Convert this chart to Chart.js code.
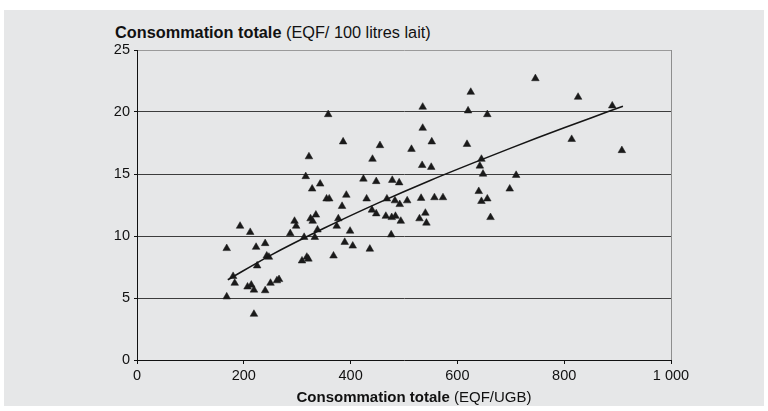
<!DOCTYPE html>
<html>
<head>
<meta charset="utf-8">
<script src="https://cdn.jsdelivr.net/npm/chart.js@4.4.1/dist/chart.umd.min.js"></script>
<style>
  html, body { margin: 0; padding: 0; background: #ffffff; width: 768px; height: 411px; overflow: hidden; }
  #panel { position: absolute; left: 4px; top: 10px; width: 760px; height: 396px; background: #e6e7e8; }
  #wrap { position: absolute; left: 0; top: 0; width: 768px; height: 411px; }
  .ttl { position: absolute; font-family: 'Liberation Sans', Arial, sans-serif; color: #111; line-height: 1; white-space: nowrap; }
  #ytitle { left: 115px; top: 24px; font-size: 16.3px; }
  #xtitle { left: 414px; top: 389px; font-size: 15px; transform: translateX(-50%); }
</style>
</head>
<body>
<div id="panel"></div>
<div id="ytitle" class="ttl"><b>Consommation totale</b> (EQF/ 100 litres lait)</div>
<div id="wrap"><canvas id="c" width="768" height="411"></canvas></div>
<div id="xtitle" class="ttl"><b>Consommation totale</b> (EQF/UGB)</div>
<script>
// Consommation totale (EQF/UGB) per farm
const consoUGB = [
  193, 212, 295, 298, 325, 335, 329, 377, 374, 399,
  287, 313, 333, 338, 389, 404, 168, 223, 240, 243,
  247, 309, 318, 321, 368, 225, 180, 183, 207, 214,
  219, 240, 250, 262, 266, 168, 219, 355, 360, 384,
  358, 386, 322, 316, 343, 328, 392,
  430, 468, 483, 492, 506, 532, 557, 573, 440, 448,
  466, 477, 484, 494, 540, 529, 542, 645, 656, 662,
  476, 436,
  625, 535, 620, 656, 535, 552, 618, 455, 514, 441,
  645, 642, 534, 551, 648, 424, 448, 478, 491, 640,
  746, 826, 890, 814, 908, 710, 698
];
// Consommation totale (EQF / 100 litres lait) per farm
const consoLait = [
  10.8, 10.3, 11.2, 10.8, 11.4, 11.7, 11.2, 11.4, 10.8, 10.4,
  10.2, 9.9, 9.9, 10.5, 9.5, 9.2, 9.0, 9.1, 9.4, 8.4,
  8.3, 8.0, 8.3, 8.15, 8.4, 7.6, 6.75, 6.2, 5.9, 6.05,
  5.65, 5.6, 6.2, 6.4, 6.5, 5.1, 3.7, 13.0, 13.0, 12.4,
  19.8, 17.6, 16.4, 14.8, 14.2, 13.8, 13.3,
  13.0, 13.0, 12.85, 12.55, 12.85, 13.05, 13.1, 13.1, 12.1, 11.8,
  11.6, 11.5, 11.6, 11.2, 11.85, 11.4, 11.05, 12.8, 13.0, 11.5,
  10.1, 8.95,
  21.6, 20.4, 20.1, 19.8, 18.7, 17.6, 17.4, 17.3, 17.0, 16.2,
  16.2, 15.65, 15.7, 15.55, 15.0, 14.6, 14.4, 14.5, 14.3, 13.6,
  22.7, 21.2, 20.5, 17.8, 16.9, 14.9, 13.8
];
// Trend curve
const trendX = [170, 250, 350, 450, 550, 650, 750, 850, 910];
const trendY = [6.47, 8.44, 10.62, 12.63, 14.50, 16.24, 17.92, 19.52, 20.46];
// Tick labels
const xTickLabels = ['0', '200', '400', '600', '800', '1 000'];
const yTickLabels = ['0', '5', '10', '15', '20', '25'];

const points = consoUGB.map((x, i) => ({ x: x, y: consoLait[i] }));
const trend = trendX.map((x, i) => ({ x: x, y: trendY[i] }));

const tickFont = { family: "'Liberation Sans', Arial, sans-serif", size: 14.5 };

new Chart(document.getElementById('c'), {
  type: 'scatter',
  data: {
    datasets: [
      {
        label: 'Tendance',
        data: trend,
        showLine: true,
        borderColor: '#151515',
        borderWidth: 1.6,
        pointRadius: 0,
        tension: 0.3,
        fill: false
      },
      {
        label: 'Exploitations',
        data: points,
        pointStyle: 'triangle',
        pointRadius: 4.4,
        backgroundColor: '#1a1a1a',
        borderColor: '#1a1a1a',
        borderWidth: 0.5
      }
    ]
  },
  options: {
    responsive: false,
    animation: false,
    devicePixelRatio: 1,
    layout: { padding: { top: 50, right: 97, left: 0, bottom: 0 } },
    plugins: { legend: { display: false }, tooltip: { enabled: false }, title: { display: false } },
    scales: {
      x: {
        type: 'linear',
        min: 0, max: 1000,
        ticks: {
          stepSize: 200,
          color: '#111',
          font: tickFont,
          padding: 3,
          maxRotation: 0,
          callback: (v, i) => xTickLabels[i]
        },
        grid: {
          color: (ctx) => (ctx.tick && ctx.tick.value === 1000) ? '#8e8e8e' : 'rgba(0,0,0,0)',
          tickColor: '#111',
          tickLength: 4,
          lineWidth: 1
        },
        border: { color: '#111', width: 1 },
        afterFit: (s) => { s.height = 51; }
      },
      y: {
        type: 'linear',
        min: 0, max: 25,
        ticks: {
          stepSize: 5,
          color: '#111',
          font: tickFont,
          padding: 4,
          callback: (v, i) => yTickLabels[i]
        },
        grid: {
          color: (ctx) => {
            if (!ctx.tick) return 'rgba(0,0,0,0)';
            if (ctx.tick.value === 0) return 'rgba(0,0,0,0)';
            if (ctx.tick.value === 25) return '#9a9a9a';
            return '#3c3c3c';
          },
          tickColor: '#111',
          tickLength: 3,
          lineWidth: 1
        },
        border: { color: '#111', width: 1 },
        afterFit: (s) => { s.width = 137; }
      }
    }
  }
});
</script>
</body>
</html>
